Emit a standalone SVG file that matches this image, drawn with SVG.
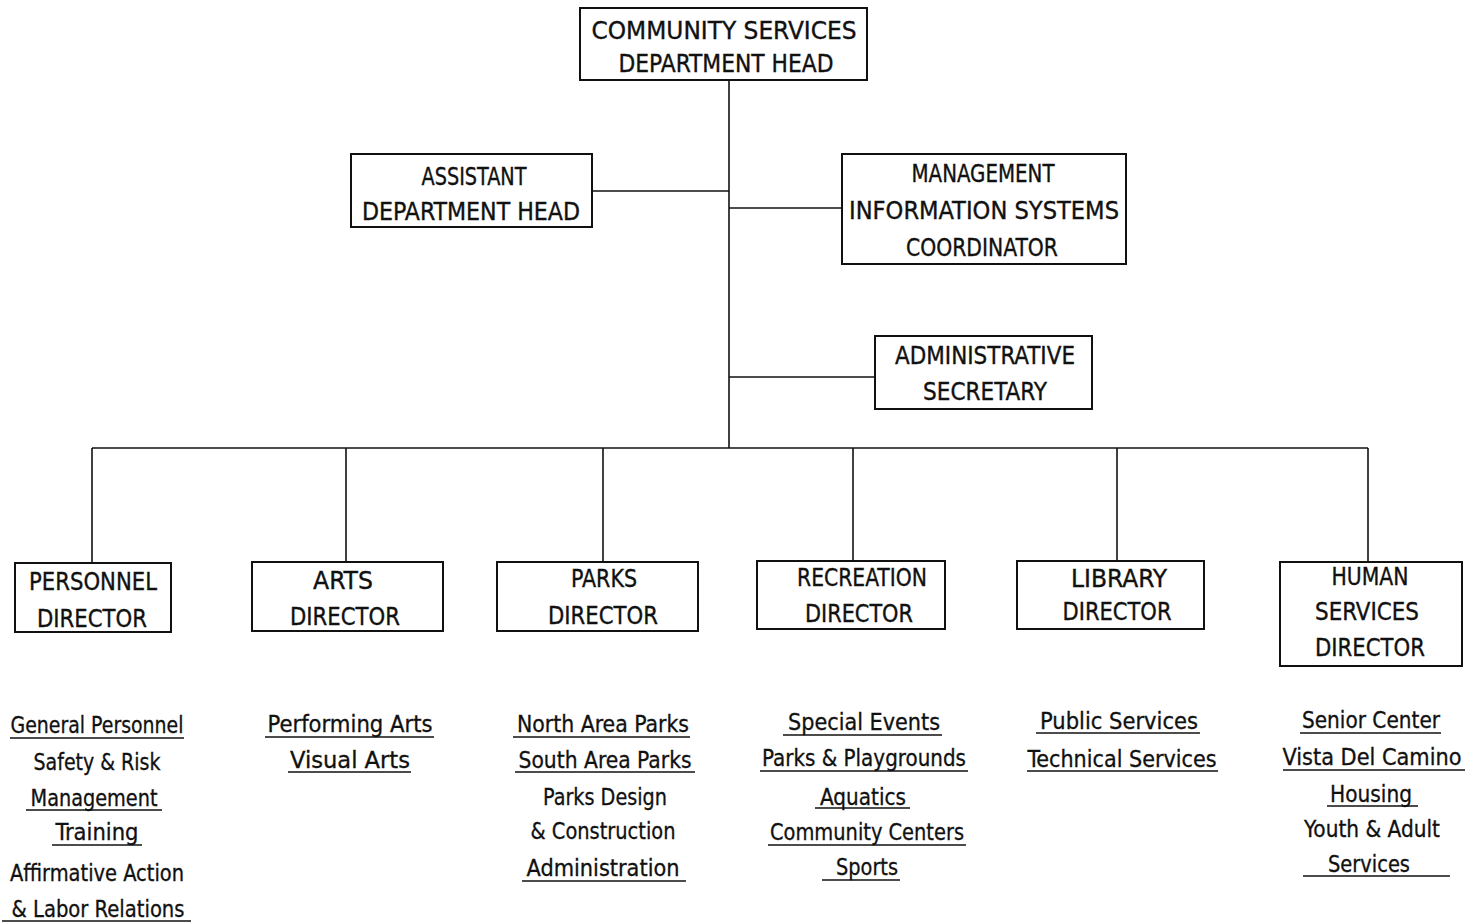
<svg xmlns="http://www.w3.org/2000/svg" width="1470" height="924" viewBox="0 0 1470 924">
  <style>
    .box { fill: #ffffff; stroke: #111111; stroke-width: 2; }
    .wire { fill: none; stroke: #111111; stroke-width: 1.6; }
    .ul { stroke: #111111; stroke-width: 1.6; }
    .cap { font-family: "DejaVu Sans Condensed", "Liberation Sans Narrow", "Liberation Sans", sans-serif; font-size: 25px; fill: #111111; stroke: #111111; stroke-width: 0.35; text-anchor: middle; }
    .item { font-family: "DejaVu Sans Condensed", "Liberation Sans Narrow", "Liberation Sans", sans-serif; font-size: 23px; fill: #111111; stroke: #111111; stroke-width: 0.3; text-anchor: middle; }
  </style>
  <rect width="1470" height="924" fill="#ffffff"/>

  <!-- reporting lines -->
  <g id="connectors">
    <path class="wire" d="M729 80 V448"/>
    <path class="wire" d="M592 191 H729"/>
    <path class="wire" d="M729 208 H842"/>
    <path class="wire" d="M729 377 H875"/>
    <path class="wire" d="M92 448 H1368"/>
    <path class="wire" d="M92 448 V563"/>
    <path class="wire" d="M346 448 V562"/>
    <path class="wire" d="M603 448 V562"/>
    <path class="wire" d="M853 448 V561"/>
    <path class="wire" d="M1117 448 V561"/>
    <path class="wire" d="M1368 448 V562"/>
  </g>

  <g id="department-head">
    <rect class="box" x="580" y="8" width="287" height="72"/>
    <text class="cap" x="724" y="39" textLength="265" lengthAdjust="spacingAndGlyphs">COMMUNITY SERVICES</text>
    <text class="cap" x="726" y="72" textLength="215" lengthAdjust="spacingAndGlyphs">DEPARTMENT HEAD</text>
  </g>

  <g id="assistant-head">
    <rect class="box" x="351" y="154" width="241" height="73"/>
    <text class="cap" x="474" y="185" textLength="105" lengthAdjust="spacingAndGlyphs">ASSISTANT</text>
    <text class="cap" x="471" y="220" textLength="218" lengthAdjust="spacingAndGlyphs">DEPARTMENT HEAD</text>
  </g>

  <g id="mis-coordinator">
    <rect class="box" x="842" y="154" width="284" height="110"/>
    <text class="cap" x="983" y="182" textLength="143" lengthAdjust="spacingAndGlyphs">MANAGEMENT</text>
    <text class="cap" x="984" y="219" textLength="270" lengthAdjust="spacingAndGlyphs">INFORMATION SYSTEMS</text>
    <text class="cap" x="982" y="256" textLength="152" lengthAdjust="spacingAndGlyphs">COORDINATOR</text>
  </g>

  <g id="admin-secretary">
    <rect class="box" x="875" y="336" width="217" height="73"/>
    <text class="cap" x="985" y="364" textLength="180" lengthAdjust="spacingAndGlyphs">ADMINISTRATIVE</text>
    <text class="cap" x="985" y="400" textLength="124" lengthAdjust="spacingAndGlyphs">SECRETARY</text>
  </g>

  <g id="personnel-director">
    <rect class="box" x="15" y="563" width="156" height="69"/>
    <text class="cap" x="93" y="590" textLength="128" lengthAdjust="spacingAndGlyphs">PERSONNEL</text>
    <text class="cap" x="92" y="627" textLength="110" lengthAdjust="spacingAndGlyphs">DIRECTOR</text>
  </g>

  <g id="arts-director">
    <rect class="box" x="252" y="562" width="191" height="69"/>
    <text class="cap" x="343" y="589" textLength="60" lengthAdjust="spacingAndGlyphs">ARTS</text>
    <text class="cap" x="345" y="625" textLength="110" lengthAdjust="spacingAndGlyphs">DIRECTOR</text>
  </g>

  <g id="parks-director">
    <rect class="box" x="497" y="562" width="201" height="69"/>
    <text class="cap" x="604" y="587" textLength="66" lengthAdjust="spacingAndGlyphs">PARKS</text>
    <text class="cap" x="603" y="624" textLength="110" lengthAdjust="spacingAndGlyphs">DIRECTOR</text>
  </g>

  <g id="recreation-director">
    <rect class="box" x="757" y="561" width="188" height="68"/>
    <text class="cap" x="862" y="586" textLength="130" lengthAdjust="spacingAndGlyphs">RECREATION</text>
    <text class="cap" x="859" y="622" textLength="108" lengthAdjust="spacingAndGlyphs">DIRECTOR</text>
  </g>

  <g id="library-director">
    <rect class="box" x="1017" y="561" width="187" height="68"/>
    <text class="cap" x="1119" y="587" textLength="96" lengthAdjust="spacingAndGlyphs">LIBRARY</text>
    <text class="cap" x="1117" y="620" textLength="109" lengthAdjust="spacingAndGlyphs">DIRECTOR</text>
  </g>

  <g id="human-services-director">
    <rect class="box" x="1280" y="562" width="182" height="104"/>
    <text class="cap" x="1370" y="585" textLength="77" lengthAdjust="spacingAndGlyphs">HUMAN</text>
    <text class="cap" x="1367" y="620" textLength="104" lengthAdjust="spacingAndGlyphs">SERVICES</text>
    <text class="cap" x="1370" y="656" textLength="110" lengthAdjust="spacingAndGlyphs">DIRECTOR</text>
  </g>

  <!-- divisions under each director -->
  <g id="personnel-divisions">
    <text class="item" x="97" y="733" textLength="173" lengthAdjust="spacingAndGlyphs">General Personnel</text>
    <line class="ul" x1="10" y1="738" x2="184" y2="738"/>
    <text class="item" x="97" y="770" textLength="127" lengthAdjust="spacingAndGlyphs">Safety &amp; Risk</text>
    <text class="item" x="94" y="806" textLength="127" lengthAdjust="spacingAndGlyphs">Management</text>
    <line class="ul" x1="26" y1="810" x2="162" y2="810"/>
    <text class="item" x="97" y="840" textLength="83" lengthAdjust="spacingAndGlyphs">Training</text>
    <line class="ul" x1="52" y1="845" x2="142" y2="845"/>
    <text class="item" x="97" y="881" textLength="174" lengthAdjust="spacingAndGlyphs">Affirmative Action</text>
    <text class="item" x="98" y="917" textLength="173" lengthAdjust="spacingAndGlyphs">&amp; Labor Relations</text>
    <line class="ul" x1="2" y1="921" x2="191" y2="921"/>
  </g>

  <g id="arts-divisions">
    <text class="item" x="350" y="732" textLength="165" lengthAdjust="spacingAndGlyphs">Performing Arts</text>
    <line class="ul" x1="265" y1="737" x2="434" y2="737"/>
    <text class="item" x="350" y="768" textLength="120" lengthAdjust="spacingAndGlyphs">Visual Arts</text>
    <line class="ul" x1="288" y1="772" x2="411" y2="772"/>
  </g>

  <g id="parks-divisions">
    <text class="item" x="603" y="732" textLength="172" lengthAdjust="spacingAndGlyphs">North Area Parks</text>
    <line class="ul" x1="513" y1="737" x2="690" y2="737"/>
    <text class="item" x="605" y="768" textLength="173" lengthAdjust="spacingAndGlyphs">South Area Parks</text>
    <line class="ul" x1="515" y1="772" x2="695" y2="772"/>
    <text class="item" x="605" y="805" textLength="124" lengthAdjust="spacingAndGlyphs">Parks Design</text>
    <text class="item" x="603" y="839" textLength="145" lengthAdjust="spacingAndGlyphs">&amp; Construction</text>
    <text class="item" x="603" y="876" textLength="153" lengthAdjust="spacingAndGlyphs">Administration</text>
    <line class="ul" x1="522" y1="881" x2="686" y2="881"/>
  </g>

  <g id="recreation-divisions">
    <text class="item" x="864" y="730" textLength="152" lengthAdjust="spacingAndGlyphs">Special Events</text>
    <line class="ul" x1="783" y1="735" x2="942" y2="735"/>
    <text class="item" x="864" y="766" textLength="204" lengthAdjust="spacingAndGlyphs">Parks &amp; Playgrounds</text>
    <line class="ul" x1="760" y1="771" x2="968" y2="771"/>
    <text class="item" x="863" y="805" textLength="86" lengthAdjust="spacingAndGlyphs">Aquatics</text>
    <line class="ul" x1="815" y1="808" x2="910" y2="808"/>
    <text class="item" x="867" y="840" textLength="194" lengthAdjust="spacingAndGlyphs">Community Centers</text>
    <line class="ul" x1="768" y1="845" x2="966" y2="845"/>
    <text class="item" x="867" y="875" textLength="62" lengthAdjust="spacingAndGlyphs">Sports</text>
    <line class="ul" x1="822" y1="880" x2="900" y2="880"/>
  </g>

  <g id="library-divisions">
    <text class="item" x="1119" y="729" textLength="158" lengthAdjust="spacingAndGlyphs">Public Services</text>
    <line class="ul" x1="1036" y1="733" x2="1200" y2="733"/>
    <text class="item" x="1122" y="767" textLength="189" lengthAdjust="spacingAndGlyphs">Technical Services</text>
    <line class="ul" x1="1027" y1="771" x2="1218" y2="771"/>
  </g>

  <g id="human-services-divisions">
    <text class="item" x="1371" y="728" textLength="138" lengthAdjust="spacingAndGlyphs">Senior Center</text>
    <line class="ul" x1="1300" y1="733" x2="1441" y2="733"/>
    <text class="item" x="1372" y="765" textLength="179" lengthAdjust="spacingAndGlyphs">Vista Del Camino</text>
    <line class="ul" x1="1283" y1="770" x2="1465" y2="770"/>
    <text class="item" x="1371" y="802" textLength="82" lengthAdjust="spacingAndGlyphs">Housing</text>
    <line class="ul" x1="1327" y1="806" x2="1418" y2="806"/>
    <text class="item" x="1372" y="837" textLength="136" lengthAdjust="spacingAndGlyphs">Youth &amp; Adult</text>
    <text class="item" x="1369" y="872" textLength="82" lengthAdjust="spacingAndGlyphs">Services</text>
    <line class="ul" x1="1303" y1="876" x2="1450" y2="876"/>
  </g>
</svg>
